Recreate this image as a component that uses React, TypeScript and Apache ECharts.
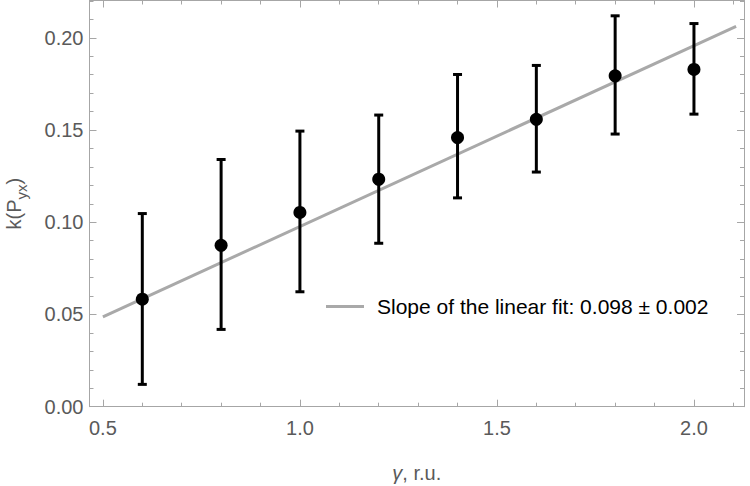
import React, { useEffect, useRef } from "react";
import * as echarts from "echarts";

const gammas = [0.6, 0.8, 1.0, 1.2, 1.4, 1.6, 1.8, 2.0];
const kValues = [0.0583, 0.0875, 0.1053, 0.1233, 0.1459, 0.1558, 0.1794, 0.1828];
const kLower = [0.0121, 0.0419, 0.0623, 0.0886, 0.1132, 0.1272, 0.1478, 0.1586];
const kUpper = [0.1047, 0.134, 0.1494, 0.1581, 0.1801, 0.185, 0.2119, 0.2077];

const fitSlope = 0.098;
const fitIntercept = -0.0003;
const fitRange = [0.5, 2.107];
const legendText = "Slope of the linear fit: 0.098 ± 0.002";

const xMajorTicks = [0.5, 1.0, 1.5, 2.0];
const xMinorTicks = [0.5, 0.6, 0.7, 0.8, 0.9, 1.0, 1.1, 1.2, 1.3, 1.4, 1.5, 1.6, 1.7, 1.8, 1.9, 2.0, 2.1];
const yMajorTicks = [0, 0.05, 0.1, 0.15, 0.2];
const yMinorTicks = [0, 0.01, 0.02, 0.03, 0.04, 0.05, 0.06, 0.07, 0.08, 0.09, 0.1, 0.11, 0.12, 0.13, 0.14, 0.15, 0.16, 0.17, 0.18, 0.19, 0.2, 0.21, 0.22];

const X_MIN = 0.466;
const X_MAX = 2.127;
const Y_MIN = 0;
const Y_MAX = 0.2202;

const FRAME = "#a6a6a6";
const LABEL = "#5a5a5a";
const FIT = "#a9a9a9";
const FONT = "Liberation Sans";

export default function App() {
  const ref = useRef<HTMLDivElement>(null);
  useEffect(() => {
    const chart = echarts.init(ref.current!, null, { renderer: "svg" });

    const mkX = (pos: string, ticks: number[], len: number, labels: boolean, line: boolean, extra: any = {}) => ({
      type: "value",
      position: pos,
      min: X_MIN,
      max: X_MAX,
      axisLine: { show: line, onZero: false, lineStyle: { color: FRAME, width: 1 } },
      axisTick: { show: true, inside: true, length: len, customValues: ticks, lineStyle: { color: FRAME, width: 1 } },
      axisLabel: labels
        ? { show: true, customValues: ticks, formatter: (v: number) => v.toFixed(1), color: LABEL, fontSize: 20, fontFamily: FONT, margin: 11 }
        : { show: false },
      splitLine: { show: false },
      ...extra,
    });
    const mkY = (pos: string, ticks: number[], len: number, labels: boolean, line: boolean, extra: any = {}) => ({
      type: "value",
      position: pos,
      min: Y_MIN,
      max: Y_MAX,
      axisLine: { show: line, onZero: false, lineStyle: { color: FRAME, width: 1 } },
      axisTick: { show: true, inside: true, length: len, customValues: ticks, lineStyle: { color: FRAME, width: 1 } },
      axisLabel: labels
        ? { show: true, customValues: ticks, formatter: (v: number) => v.toFixed(2), color: LABEL, fontSize: 20, fontFamily: FONT, margin: 6 }
        : { show: false },
      splitLine: { show: false },
      ...extra,
    });

    const points = gammas.map((g, i) => [g, kValues[i]]);
    const errData = gammas.map((g, i) => [g, kLower[i], kUpper[i]]);
    const fitData = fitRange.map((x) => [x, fitSlope * x + fitIntercept]);

    chart.setOption({
      animation: false,
      backgroundColor: "#ffffff",
      grid: { left: 89.5, right: 6, top: 0.5, bottom: 79.3, containLabel: false, outerBoundsMode: "none" },
      legend: {
        show: true,
        left: 321,
        top: 291,
        itemWidth: 38,
        itemHeight: 3,
        data: [{ name: legendText, icon: "rect", itemStyle: { color: FIT } }],
        textStyle: { color: "#000", fontSize: 21, fontFamily: FONT, padding: [0, 0, 0, 8] },
      },
      xAxis: [
        mkX("bottom", xMajorTicks, 7, true, true, {
          name: "{i|γ}{n|, r.u.}",
          nameLocation: "middle",
          nameGap: 56,
          nameTextStyle: {
            rich: {
              i: { color: LABEL, fontSize: 20, fontFamily: FONT, fontStyle: "italic" },
              n: { color: LABEL, fontSize: 20, fontFamily: FONT },
            },
          },
        }),
        mkX("bottom", xMinorTicks, 4, false, false),
        mkX("top", xMajorTicks, 7, false, true),
        mkX("top", xMinorTicks, 4, false, false),
      ],
      yAxis: [
        mkY("left", yMajorTicks, 7, true, true, {
          name: "{n|k(P}{s|yx}{n|)}",
          nameLocation: "middle",
          nameGap: 61,
          nameRotate: 90,
          nameTextStyle: {
            rich: {
              n: { color: LABEL, fontSize: 20, fontFamily: FONT },
              s: { color: LABEL, fontSize: 15, fontFamily: FONT, verticalAlign: "bottom", lineHeight: 30 },
            },
          },
        }),
        mkY("left", yMinorTicks, 4, false, false),
        mkY("right", yMajorTicks, 7, false, true),
        mkY("right", yMinorTicks, 4, false, false),
      ],
      series: [
        {
          name: legendText,
          type: "line",
          data: fitData,
          symbol: "none",
          itemStyle: { color: FIT },
          lineStyle: { color: FIT, width: 3 },
          xAxisIndex: 0,
          yAxisIndex: 0,
          z: 2,
        },
        {
          type: "custom",
          xAxisIndex: 0,
          yAxisIndex: 0,
          data: errData,
          z: 3,
          renderItem: (params: any, api: any) => {
            const x = api.value(0);
            const lo = api.coord([x, api.value(1)]);
            const hi = api.coord([x, api.value(2)]);
            const hw = 4.5;
            const style = { stroke: "#000", lineWidth: 3, fill: "none" };
            return {
              type: "group",
              children: [
                { type: "line", shape: { x1: lo[0], y1: lo[1], x2: hi[0], y2: hi[1] }, style },
                { type: "line", shape: { x1: lo[0] - hw, y1: lo[1], x2: lo[0] + hw, y2: lo[1] }, style },
                { type: "line", shape: { x1: hi[0] - hw, y1: hi[1], x2: hi[0] + hw, y2: hi[1] }, style },
              ],
            };
          },
        },
        {
          type: "scatter",
          data: points,
          symbol: "circle",
          symbolSize: 13,
          itemStyle: { color: "#000", opacity: 1 },
          xAxisIndex: 0,
          yAxisIndex: 0,
          z: 4,
        },
      ],
    });
    return () => chart.dispose();
  }, []);
  return <div ref={ref} style={{ width: 750, height: 486, position: "fixed", left: 0, top: 0 }} />;
}
